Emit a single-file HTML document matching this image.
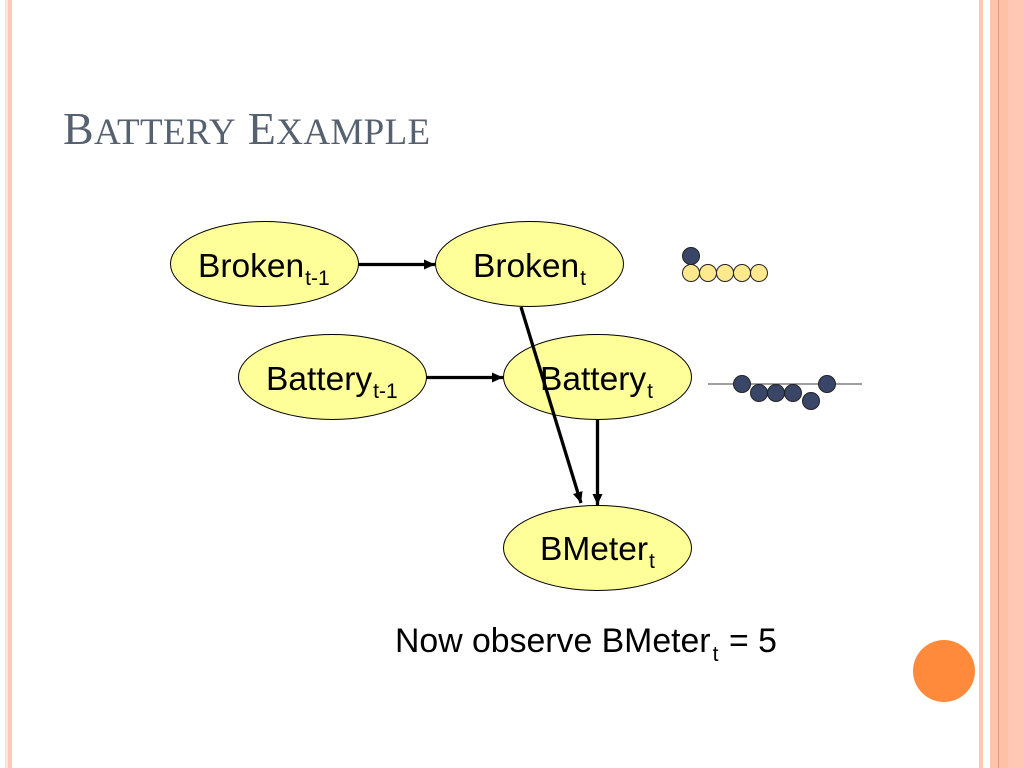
<!DOCTYPE html>
<html><head><meta charset="utf-8"><style>
html,body{margin:0;padding:0;background:#fff}
svg{display:block}
text{font-family:"Liberation Sans",sans-serif;fill:#000}
</style></head><body>
<svg width="1024" height="768" viewBox="0 0 1024 768" xmlns="http://www.w3.org/2000/svg">
<defs>
<marker id="a" markerUnits="userSpaceOnUse" markerWidth="12" markerHeight="10" refX="11" refY="5" orient="auto"><path d="M0 0L11 5L0 10Z" fill="#000"/></marker>
</defs>
<rect width="1024" height="768" fill="#fff"/>
<rect x="5" y="0" width="3" height="768" fill="#fbe6d8"/>
<rect x="8" y="0" width="4" height="768" fill="#ffc8b8"/>
<rect x="979" y="0" width="4" height="768" fill="#fbc8b8"/>
<rect x="990" y="0" width="8" height="768" fill="#fdc4ac"/>
<rect x="998" y="0" width="1" height="768" fill="#e89a78"/>
<rect x="999" y="0" width="9" height="768" fill="#ffc0a8"/>
<rect x="1008" y="0" width="16" height="768" fill="#ffc8b4"/>
<circle cx="944" cy="671" r="31" fill="#ff8a3c"/>
<text x="63" y="144" style="font-family:'Liberation Serif',serif;fill:#56616f;font-size:46px;letter-spacing:0.35px">B<tspan font-size="37">ATTERY</tspan> E<tspan font-size="37">XAMPLE</tspan></text>
<g fill="#ffff99" stroke="#000" stroke-width="1">
<ellipse cx="264.5" cy="264" rx="94" ry="42.5"/>
<ellipse cx="529.5" cy="264" rx="94" ry="42.5"/>
<ellipse cx="332.5" cy="377" rx="94" ry="42.5"/>
<ellipse cx="597.5" cy="377" rx="94" ry="42.5"/>
<ellipse cx="597.5" cy="548" rx="94" ry="42.5"/>
</g>
<g stroke="#000" stroke-width="3.3" fill="none">
<line x1="358" y1="264.5" x2="435" y2="264.5" marker-end="url(#a)"/>
<line x1="426" y1="377.5" x2="503" y2="377.5" marker-end="url(#a)"/>
<line x1="597.5" y1="420" x2="597.5" y2="505" marker-end="url(#a)"/>
<line x1="521" y1="307" x2="581" y2="503" marker-end="url(#a)"/>
</g>
<g font-size="33.5">
<text x="198" y="277">Broken<tspan font-size="21" dy="8" dx="1">t-1</tspan></text>
<text x="473" y="277">Broken<tspan font-size="21" dy="8" dx="1">t</tspan></text>
<text x="266" y="390">Battery<tspan font-size="21" dy="8" dx="1">t-1</tspan></text>
<text x="540" y="390">Battery<tspan font-size="21" dy="8" dx="1">t</tspan></text>
<text x="540" y="560">BMeter<tspan font-size="21" dy="8" dx="1">t</tspan></text>
<text x="395" y="652" font-size="33.8">Now observe BMeter<tspan font-size="21" dy="9" dx="2">t</tspan><tspan x="729" dy="-9">= 5</tspan></text>
</g>
<line x1="708" y1="384" x2="862" y2="384" stroke="#666" stroke-width="1.2"/>
<g fill="#ffe98f" stroke="#222" stroke-width="1">
<circle cx="691" cy="273" r="8.5"/><circle cx="708" cy="273" r="8.5"/><circle cx="725" cy="273" r="8.5"/><circle cx="742" cy="273" r="8.5"/><circle cx="759" cy="273" r="8.5"/>
</g>
<g fill="#3a4668" stroke="#222" stroke-width="1">
<circle cx="691" cy="256" r="8.5"/>
<circle cx="742" cy="384" r="8.5"/><circle cx="759" cy="393" r="8.5"/><circle cx="776" cy="393" r="8.5"/><circle cx="793" cy="393" r="8.5"/><circle cx="811" cy="401" r="8.5"/><circle cx="827" cy="384" r="8.5"/>
</g>
</svg>
</body></html>
